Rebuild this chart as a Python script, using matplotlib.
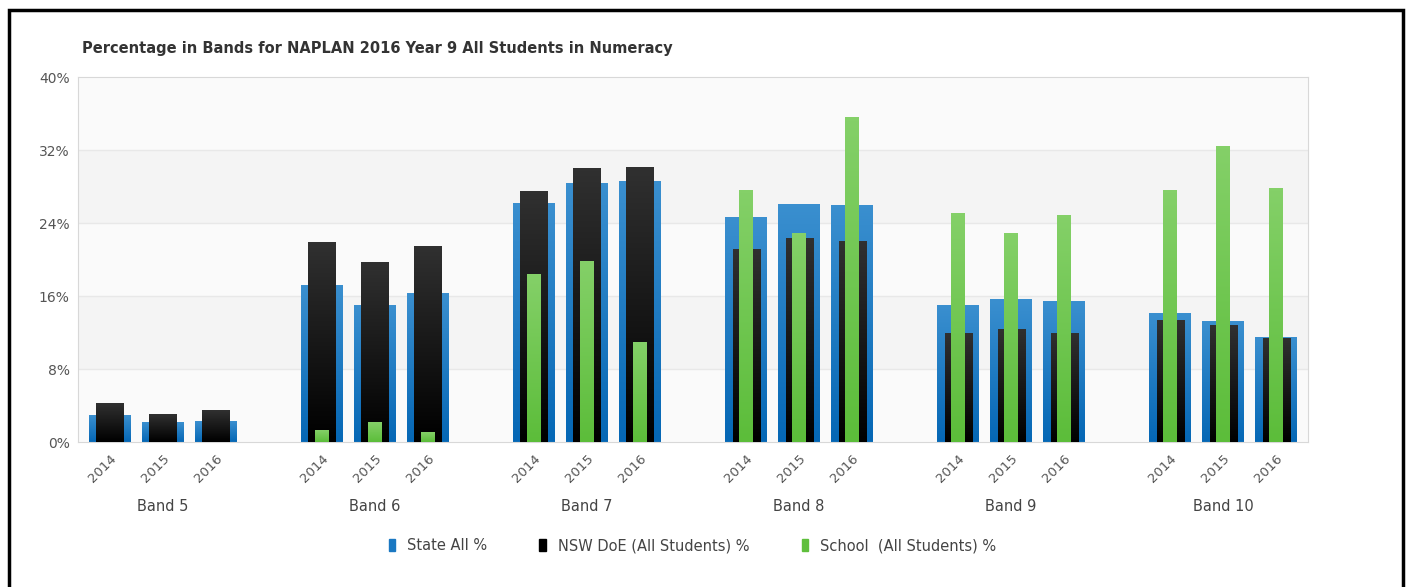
# Percentage in Bands, NAPLAN 2016 Year 9 Numeracy

import numpy as np
import matplotlib.pyplot as plt
from matplotlib.colors import LinearSegmentedColormap
from matplotlib.patches import Rectangle, Patch

plt.rcParams['font.family'] = 'DejaVu Sans'

# data
bands = ['Band 5', 'Band 6', 'Band 7', 'Band 8', 'Band 9', 'Band 10']
years = ['2014', '2015', '2016']
state = [2.9, 2.1, 2.3,  17.2, 15.0, 16.3,  26.1, 28.3, 28.6,
         24.6, 26.0, 25.9,  15.0, 15.6, 15.4,  14.1, 13.2, 11.4]
nsw = [4.2, 3.0, 3.4,  21.9, 19.7, 21.4,  27.5, 30.0, 30.1,
       21.1, 22.3, 22.0,  11.9, 12.3, 11.9,  13.3, 12.8, 11.3]
school = [0.0, 0.0, 0.0,  1.3, 2.1, 1.0,  18.4, 19.8, 10.9,
          27.6, 22.8, 35.6,  25.0, 22.9, 24.8,  27.6, 32.4, 27.8]

# bar x positions: 3 years per band, one empty slot between bands
x = np.array([4*i + j for i in range(len(bands)) for j in range(len(years))])

fig = plt.figure(figsize=(14.1, 5.87), dpi=100)
ax = fig.add_axes([0.0553, 0.247, 0.8724, 0.6218])

# alternating background stripes
for k, y0 in enumerate(range(0, 40, 8)):
    ax.axhspan(y0, y0+8, color='#f4f4f4' if k % 2 else '#fafafa', zorder=0, lw=0)
for y0 in [8, 16, 24, 32]:
    ax.axhline(y0, color='#e8e8e8', lw=1, zorder=0.5)

def grad_bars(xs, hs, w, top, bottom, z):
    cmap = LinearSegmentedColormap.from_list('g', [bottom, top])
    g = np.linspace(0, 1, 64).reshape(-1, 1)
    for xi, h in zip(xs, hs):
        if h <= 0:
            continue
        ax.imshow(g, extent=[xi-w/2, xi+w/2, 0, h], origin='lower',
                  aspect='auto', cmap=cmap, zorder=z, interpolation='bilinear')

grad_bars(x, state, 0.79, '#3a8fcf', '#0567b5', 2)
grad_bars(x, nsw, 0.51, '#303030', '#000000', 3)
grad_bars(x, school, 0.26, '#84d068', '#5cbd3a', 4)

ax.set_xlim(-0.6, 22.6)
ax.set_ylim(0, 40)

ax.set_yticks([0, 8, 16, 24, 32, 40])
ax.set_yticklabels(['0%', '8%', '16%', '24%', '32%', '40%'], color='#555555', fontsize=10)
ax.set_xticks(x)
ax.set_xticklabels(years*len(bands), rotation=45, ha='right', rotation_mode='anchor',
                   color='#555555', fontsize=9.5)
ax.tick_params(length=0, pad=7)
ax.tick_params(axis='y', pad=6)
for s in ax.spines.values():
    s.set_color('#d8d8d8')

for i, b in enumerate(bands):
    ax.text(4*i + 1, -7.05, b, ha='center', va='center', fontsize=10.5,
            color='#444444', clip_on=False)

fig.text(0.058, 0.918, 'Percentage in Bands for NAPLAN 2016 Year 9 All Students in Numeracy',
         fontsize=10.5, fontweight='bold', color='#333333', va='center')

handles = [Patch(color='#1a78c2', label='State All %'),
           Patch(color='#000000', label='NSW DoE (All Students) %'),
           Patch(color='#5fbf3c', label='School  (All Students) %')]
fig.legend(handles=handles, loc='center', bbox_to_anchor=(0.491, 0.07), ncol=3,
           frameon=False, fontsize=10.5, handlelength=0.45, handleheight=0.9,
           handletextpad=0.8, columnspacing=3.6, labelcolor='#444444')

# outer black frame
fig.patches.append(Rectangle((0.0064, -0.05), 0.9887, 1.033, transform=fig.transFigure,
                             fill=False, ec='black', lw=2.5))

plt.savefig('out.png', dpi=100)
